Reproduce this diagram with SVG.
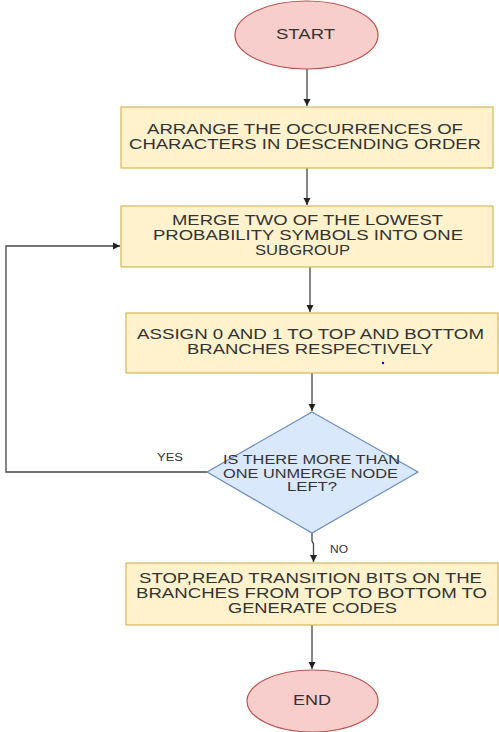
<svg xmlns="http://www.w3.org/2000/svg" width="499" height="732" viewBox="0 0 499 732">
<style>
.term{fill:#f8cecc;stroke:#b85450;stroke-width:1.2}
.proc{fill:#fff2cc;stroke:#d6b656;stroke-width:1.2}
.dec{fill:#dae8fc;stroke:#6c8ebf;stroke-width:1.2}
.t{font-family:"Liberation Sans",Arial,sans-serif;font-size:14px;fill:#333;text-anchor:middle}
.td{font-family:"Liberation Sans",Arial,sans-serif;font-size:12px;fill:#333;text-anchor:middle}
.lbl{font-family:"Liberation Sans",Arial,sans-serif;font-size:10px;fill:#333;text-anchor:middle}
.c{fill:none;stroke:#444;stroke-width:1.3}
</style>
<defs>
<marker id="arr" markerUnits="userSpaceOnUse" markerWidth="8" markerHeight="8" refX="7" refY="4" orient="auto">
<path d="M0,0.5 L7,4 L0,7.5 z" fill="#222"/>
</marker>
</defs>
<rect width="499" height="732" fill="#fff"/>
<g id="connectors">
<line class="c" x1="307" y1="69" x2="307" y2="106" marker-end="url(#arr)"/>
<line class="c" x1="307" y1="168" x2="307" y2="205" marker-end="url(#arr)"/>
<line class="c" x1="310" y1="267" x2="310" y2="312" marker-end="url(#arr)"/>
<line class="c" x1="312" y1="373" x2="312" y2="411" marker-end="url(#arr)"/>
<path class="c" d="M207,472 H6 V246 H120" marker-end="url(#arr)"/>
<path class="c" d="M312,533 V541 L313.5,544 V562" marker-end="url(#arr)"/>
<line class="c" x1="312" y1="625" x2="312" y2="669" marker-end="url(#arr)"/>
<text class="lbl" x="170" y="461" textLength="26" lengthAdjust="spacingAndGlyphs">YES</text>
<text class="lbl" x="339" y="553" textLength="18" lengthAdjust="spacingAndGlyphs">NO</text>
</g>
<g id="start">
<ellipse class="term" cx="306.5" cy="35" rx="71.5" ry="34"/>
<text class="t" x="305.5" y="39" textLength="59" lengthAdjust="spacingAndGlyphs">START</text>
</g>
<g id="arrange">
<rect class="proc" x="121" y="107" width="372" height="61"/>
<text class="t" x="305" y="134" textLength="316" lengthAdjust="spacingAndGlyphs">ARRANGE THE OCCURRENCES OF</text>
<text class="t" x="305" y="149" textLength="352" lengthAdjust="spacingAndGlyphs">CHARACTERS IN DESCENDING ORDER</text>
</g>
<g id="merge">
<rect class="proc" x="121" y="206" width="372" height="61"/>
<text class="t" x="307.5" y="225" textLength="271" lengthAdjust="spacingAndGlyphs">MERGE TWO OF THE LOWEST</text>
<text class="t" x="308" y="240" textLength="310" lengthAdjust="spacingAndGlyphs">PROBABILITY SYMBOLS INTO ONE</text>
<text class="t" x="302.5" y="255" textLength="95" lengthAdjust="spacingAndGlyphs">SUBGROUP</text>
</g>
<g id="assign">
<rect class="proc" x="126" y="313" width="372" height="60"/>
<text class="t" x="310.5" y="339" textLength="347" lengthAdjust="spacingAndGlyphs">ASSIGN 0 AND 1 TO TOP AND BOTTOM</text>
<text class="t" x="310" y="354" textLength="246" lengthAdjust="spacingAndGlyphs">BRANCHES RESPECTIVELY</text>
<circle cx="383" cy="363" r="1.2" fill="#0000ff"/>
</g>
<g id="decision">
<polygon class="dec" points="312,412 418,472 312,533 207,472"/>
<text class="td" x="311.5" y="464" textLength="177" lengthAdjust="spacingAndGlyphs">IS THERE MORE THAN</text>
<text class="td" x="310.5" y="478" textLength="175" lengthAdjust="spacingAndGlyphs">ONE UNMERGE NODE</text>
<text class="td" x="312" y="491" textLength="50" lengthAdjust="spacingAndGlyphs">LEFT?</text>
</g>
<g id="stop">
<rect class="proc" x="126" y="563" width="372" height="62"/>
<text class="t" x="310.5" y="583" textLength="343" lengthAdjust="spacingAndGlyphs">STOP,READ TRANSITION BITS ON THE</text>
<text class="t" x="311.5" y="598" textLength="351" lengthAdjust="spacingAndGlyphs">BRANCHES FROM TOP TO BOTTOM TO</text>
<text class="t" x="312.5" y="613" textLength="169" lengthAdjust="spacingAndGlyphs">GENERATE CODES</text>
</g>
<g id="end">
<ellipse class="term" cx="312.5" cy="701" rx="65.5" ry="31"/>
<text class="t" x="312" y="705" textLength="38" lengthAdjust="spacingAndGlyphs">END</text>
</g>
</svg>
